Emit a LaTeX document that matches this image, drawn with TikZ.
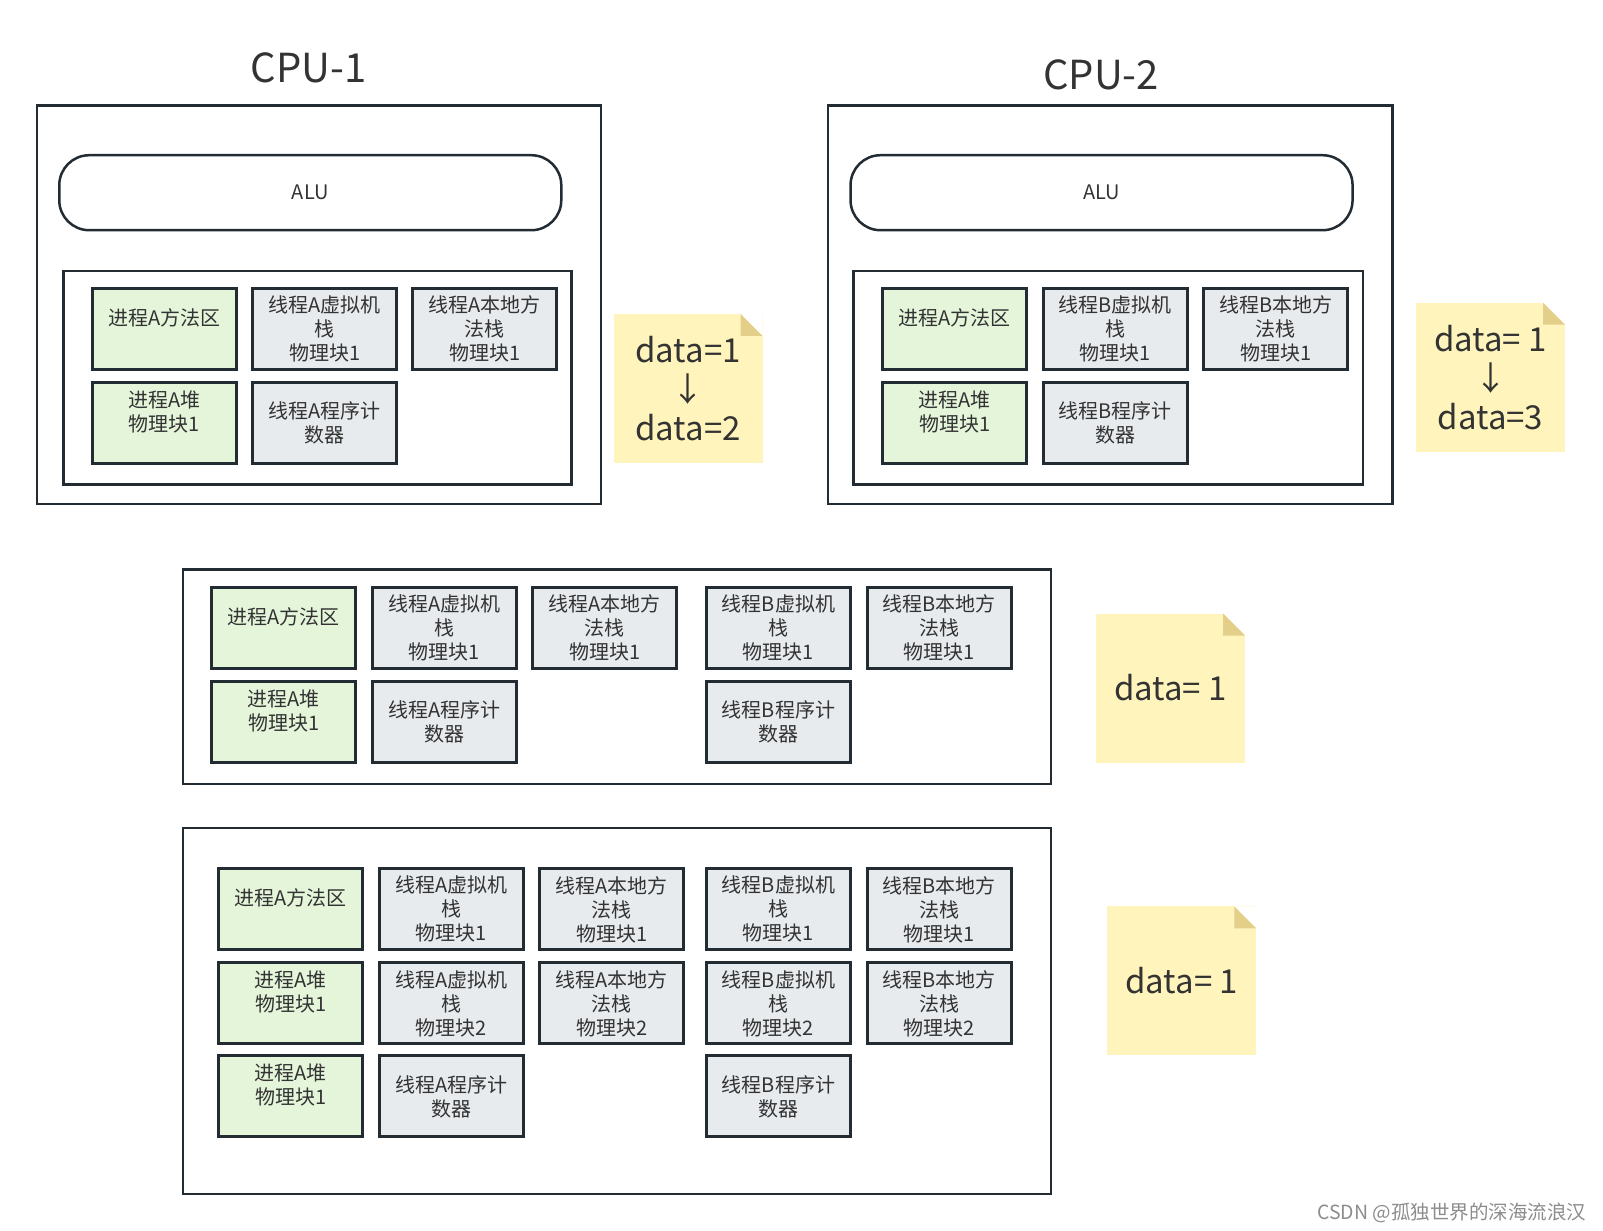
\documentclass[tikz,border=0pt]{standalone}
\usepackage{fontspec}
\setmainfont{Noto Sans CJK SC}
\definecolor{edgecol}{HTML}{232B33}
\definecolor{greenfill}{HTML}{E4F5DA}
\definecolor{greyfill}{HTML}{E8EBEE}
\definecolor{notefill}{HTML}{FFF5BC}
\definecolor{notefold}{HTML}{E3CF8A}
\definecolor{txt}{HTML}{333333}
\begin{document}
\begin{tikzpicture}[x=1.0223pt, y=-1.0223pt,
    frame/.style={draw=edgecol, line width=2.5pt},
    alubox/.style={draw=edgecol, line width=2.5pt, rounded corners=30pt, minimum width=502pt, minimum height=75pt, font=\fontsize{20}{24}\selectfont, text=txt},
    blk/.style={draw=edgecol, line width=3pt, minimum width=144pt, minimum height=81pt, align=center, inner sep=0pt, font=\fontsize{20}{24}\selectfont, text=txt},
    gblk/.style={blk, fill=greenfill},
    tblk/.style={blk, fill=greyfill},
    cputitle/.style={font=\fontsize{40}{48}\selectfont, text=txt},
    note/.style={fill=notefill, minimum width=149pt, minimum height=149pt, align=center, inner sep=0pt, font=\fontsize{33}{39}\selectfont, text=txt,
        path picture={
            \fill[white] (path picture bounding box.north east) -- ([xshift=-22pt]path picture bounding box.north east) -- ([yshift=-22pt]path picture bounding box.north east) -- cycle;
            \fill[notefold] ([xshift=-22pt]path picture bounding box.north east) -- ([xshift=-22pt,yshift=-22pt]path picture bounding box.north east) -- ([yshift=-22pt]path picture bounding box.north east) -- cycle;}}]
    \useasboundingbox (0,0) rectangle (1568,1204);

    \node[cputitle] (cpu1) at (302,66) {CPU-1};
    \draw[frame] (36,103) rectangle (588,493);
    \node[alubox] (alu1) at (303.5,188.5) {ALU};
    \draw[frame] (62,265) rectangle (559,474);
    \node[gblk] (pa1) at (160.5,321.5) {进程A方法区\\\mbox{}};
    \node[tblk] (vs1) at (317.5,321.5) {线程A虚拟机\\栈\\物理块1};
    \node[tblk] (ns1) at (474,321.5) {线程A本地方\\法栈\\物理块1};
    \node[gblk] (hp1) at (160.5,413.5) {进程A堆\\物理块1\\\mbox{}};
    \node[tblk] (pc1) at (317.5,413.5) {线程A程序计\\数器};
    \node[note] (n1) at (673,380) {data=1\\↓\\data=2};

    \node[cputitle] (cpu2) at (1077,73) {CPU-2};
    \draw[frame] (810,103) rectangle (1362,493);
    \node[alubox] (alu2) at (1077.5,188.5) {ALU};
    \draw[frame] (835,265) rectangle (1333,474);
    \node[gblk] (pa2) at (934,321.5) {进程A方法区\\\mbox{}};
    \node[tblk] (vs2) at (1091,321.5) {线程B虚拟机\\栈\\物理块1};
    \node[tblk] (ns2) at (1248,321.5) {线程B本地方\\法栈\\物理块1};
    \node[gblk] (hp2) at (934,413.5) {进程A堆\\物理块1\\\mbox{}};
    \node[tblk] (pc2) at (1091,413.5) {线程B程序计\\数器};
    \node[note] (n2) at (1458,369) {data= 1\\↓\\data=3};

    \draw[frame] (179,557) rectangle (1028,767);
    \node[gblk] (ma1) at (277.5,614.5) {进程A方法区\\\mbox{}};
    \node[tblk] (ma2) at (434.5,614.5) {线程A虚拟机\\栈\\物理块1};
    \node[tblk] (ma3) at (591.5,614.5) {线程A本地方\\法栈\\物理块1};
    \node[tblk] (ma4) at (761.5,614.5) {线程B虚拟机\\栈\\物理块1};
    \node[tblk] (ma5) at (918.5,614.5) {线程B本地方\\法栈\\物理块1};
    \node[gblk] (ma6) at (277.5,706.5) {进程A堆\\物理块1\\\mbox{}};
    \node[tblk] (ma7) at (434.5,706.5) {线程A程序计\\数器};
    \node[tblk] (ma8) at (761.5,706.5) {线程B程序计\\数器};
    \node[note] (n3) at (1145,673) {data= 1};

    \draw[frame] (179,810) rectangle (1028,1168);
    \node[gblk] (mb1) at (284.5,889.5) {进程A方法区\\\mbox{}};
    \node[tblk] (mb2) at (441.5,889.5) {线程A虚拟机\\栈\\物理块1};
    \node[tblk] (mb3) at (598.5,889.5) {线程A本地方\\法栈\\物理块1};
    \node[tblk] (mb4) at (761.5,889.5) {线程B虚拟机\\栈\\物理块1};
    \node[tblk] (mb5) at (918.5,889.5) {线程B本地方\\法栈\\物理块1};
    \node[gblk] (mb6) at (284.5,981.5) {进程A堆\\物理块1\\\mbox{}};
    \node[tblk] (mb7) at (441.5,981.5) {线程A虚拟机\\栈\\物理块2};
    \node[tblk] (mb8) at (598.5,981.5) {线程A本地方\\法栈\\物理块2};
    \node[tblk] (mb9) at (761.5,981.5) {线程B虚拟机\\栈\\物理块2};
    \node[tblk] (mb10) at (918.5,981.5) {线程B本地方\\法栈\\物理块2};
    \node[gblk] (mb11) at (284.5,1072.5) {进程A堆\\物理块1\\\mbox{}};
    \node[tblk] (mb12) at (441.5,1072.5) {线程A程序计\\数器};
    \node[tblk] (mb13) at (761.5,1072.5) {线程B程序计\\数器};
    \node[note] (n4) at (1156,959.5) {data= 1};

    \node[font=\fontsize{19.5}{22}\selectfont, text=black!45] (wm) at (1420,1186) {CSDN @孤独世界的深海流浪汉};
\end{tikzpicture}
\end{document}
